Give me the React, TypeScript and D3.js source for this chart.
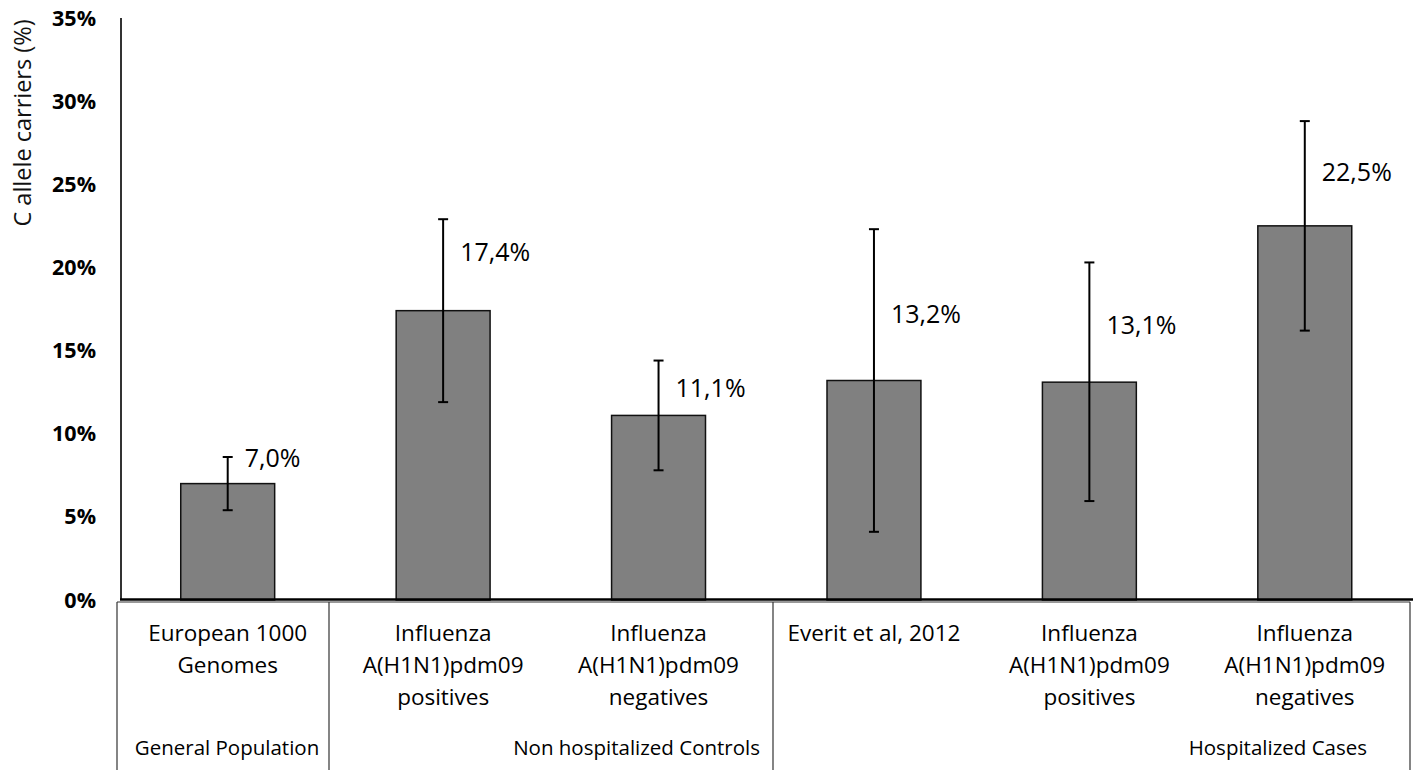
import React from "react";
import * as d3 from "d3";

const categories = [
  ["European 1000", "Genomes"],
  ["Influenza", "A(H1N1)pdm09", "positives"],
  ["Influenza", "A(H1N1)pdm09", "negatives"],
  ["Everit et al, 2012"],
  ["Influenza", "A(H1N1)pdm09", "positives"],
  ["Influenza", "A(H1N1)pdm09", "negatives"],
];
const values = [7.0, 17.4, 11.1, 13.2, 13.1, 22.5];
const errLow = [5.4, 11.9, 7.8, 4.1, 5.95, 16.2];
const errHigh = [8.6, 22.9, 14.4, 22.3, 20.3, 28.8];
const labelAt = [8.54, 20.9, 12.75, 17.2, 16.5, 25.7];
const valueLabels = ["7,0%", "17,4%", "11,1%", "13,2%", "13,1%", "22,5%"];
const groups = ["General Population", "Non hospitalized Controls", "Hospitalized Cases"];
const yTicks = [0, 5, 10, 15, 20, 25, 30, 35];

const W = 1417;
const H = 770;
const FONT = "'Open Sans', Lato, sans-serif";

export default function App() {
  const x = d3
    .scaleBand<number>()
    .domain(values.map((_, i) => i))
    .range([120, 1412.5])
    .paddingInner(0.564)
    .paddingOuter(0.282);
  const y = d3.scaleLinear().domain([0, 35]).range([600, 18]);
  const bw = x.bandwidth();
  const cx = (i: number) => (x(i) as number) + bw / 2;

  const dividers = [117, 329, 773, 1410];
  const groupPos = [
    { x: 227, anchor: "middle" },
    { x: 760, anchor: "end" },
    { x: 1367, anchor: "end" },
  ];

  return (
    <svg
      width={W}
      height={H}
      style={{ position: "absolute", left: 0, top: 0, background: "#fff" }}
      fontFamily={FONT}
    >
      {/* y axis label */}
      <text
        transform={`translate(31,${123}) rotate(-90)`}
        textAnchor="middle"
        fontSize={23.5}
        fill="#111"
      >
        C allele carriers (%)
      </text>
      {/* y ticks */}
      {yTicks.map((t) => (
        <text
          key={t}
          x={96}
          y={y(t)}
          dy="0.35em"
          textAnchor="end"
          fontSize={21.5}
          fontWeight="bold"
          fill="#000"
        >
          {t}%
        </text>
      ))}
      {/* bars */}
      {values.map((v, i) => (
        <rect
          key={i}
          x={x(i)}
          y={y(v)}
          width={bw}
          height={y(0) - y(v)}
          fill="#808080"
          stroke="#111"
          strokeWidth={1.5}
        />
      ))}
      {/* error bars */}
      {values.map((_, i) => (
        <g key={i} stroke="#000" strokeWidth={2}>
          <line x1={cx(i)} x2={cx(i)} y1={y(errLow[i])} y2={y(errHigh[i])} />
          <line x1={cx(i) - 5} x2={cx(i) + 5} y1={y(errLow[i])} y2={y(errLow[i])} />
          <line x1={cx(i) - 5} x2={cx(i) + 5} y1={y(errHigh[i])} y2={y(errHigh[i])} />
        </g>
      ))}
      {/* value labels */}
      {valueLabels.map((l, i) => (
        <text key={i} x={cx(i) + 17} y={y(labelAt[i])} dy="0.35em" fontSize={25} fill="#000">
          {l}
        </text>
      ))}
      {/* axes */}
      <line x1={121} x2={121} y1={18} y2={600} stroke="#333" strokeWidth={2} />
      <line x1={120} x2={1413} y1={599.5} y2={599.5} stroke="#000" strokeWidth={2.5} />
      {/* category box */}
      <line x1={117} x2={1410} y1={602} y2={602} stroke="#333" strokeWidth={1.2} />
      {dividers.map((d, i) => (
        <line key={i} x1={d} x2={d} y1={602} y2={H} stroke="#333" strokeWidth={1.2} />
      ))}
      {/* category labels */}
      {categories.map((lines, i) => (
        <text key={i} textAnchor="middle" fontSize={22.5} fill="#000">
          {lines.map((ln, j) => (
            <tspan key={j} x={cx(i)} y={633 + j * 32} dy="0.35em">
              {ln}
            </tspan>
          ))}
        </text>
      ))}
      {/* group labels */}
      {groups.map((g, i) => (
        <text
          key={i}
          x={groupPos[i].x}
          y={748}
          dy="0.35em"
          textAnchor={groupPos[i].anchor as any}
          fontSize={20.5}
          fill="#000"
        >
          {g}
        </text>
      ))}
    </svg>
  );
}
